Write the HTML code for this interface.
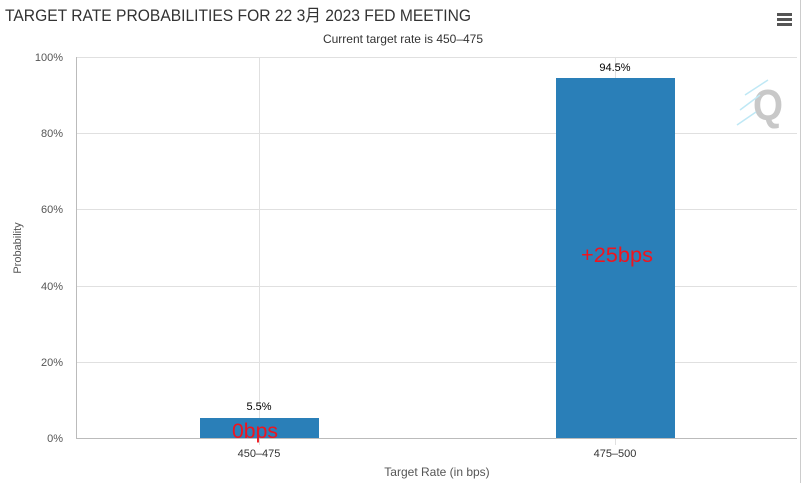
<!DOCTYPE html>
<html><head><style>
body{margin:0;background:#fff;}
svg text{font-family:"Liberation Sans","Noto Sans CJK SC",sans-serif;}
</style></head><body>
<svg width="809" height="483" xmlns="http://www.w3.org/2000/svg">
<rect width="809" height="483" fill="#fff"/>
<line x1="800.5" y1="0" x2="800.5" y2="483" stroke="#ccc"/>
<text x="5" y="21" font-size="16.5" fill="#333" textLength="466" lengthAdjust="spacingAndGlyphs">TARGET RATE PROBABILITIES FOR 22 3月 2023 FED MEETING</text>
<text x="403" y="43" font-size="12" fill="#333" text-anchor="middle">Current target rate is 450–475</text>
<g fill="#555"><rect x="777" y="13" width="15" height="3"/><rect x="777" y="18" width="15" height="3"/><rect x="777" y="23" width="15" height="3"/></g>
<g stroke="#e0e0e0" stroke-width="1">
<line x1="76" y1="57.5" x2="797" y2="57.5"/>
<line x1="76" y1="133.5" x2="797" y2="133.5"/>
<line x1="76" y1="209.5" x2="797" y2="209.5"/>
<line x1="76" y1="286.5" x2="797" y2="286.5"/>
<line x1="76" y1="362.5" x2="797" y2="362.5"/>
<line x1="259.5" y1="57" x2="259.5" y2="445"/>
<line x1="615.5" y1="57" x2="615.5" y2="445"/>
</g>
<line x1="76.5" y1="57" x2="76.5" y2="438" stroke="#bbb"/>
<line x1="76" y1="438.5" x2="797" y2="438.5" stroke="#bbb"/>
<g font-size="11" fill="#555" text-anchor="end">
<text x="63" y="61">100%</text><text x="63" y="137">80%</text><text x="63" y="213">60%</text>
<text x="63" y="290">40%</text><text x="63" y="366">20%</text><text x="63" y="442">0%</text>
</g>
<text x="21" y="248" font-size="11" fill="#555" text-anchor="middle" transform="rotate(-90 21 248)">Probability</text>
<rect x="200" y="418" width="119" height="20" fill="#2a7fb8"/>
<rect x="556" y="78" width="119" height="360" fill="#2a7fb8"/>
<text x="259" y="410" font-size="11" fill="#000" text-anchor="middle">5.5%</text>
<text x="615" y="71" font-size="11" fill="#000" text-anchor="middle">94.5%</text>
<text x="255" y="438" font-size="21" fill="#f0141e" text-anchor="middle" textLength="46" lengthAdjust="spacingAndGlyphs">0bps</text>
<text x="617" y="262" font-size="21" fill="#f0141e" text-anchor="middle" textLength="72" lengthAdjust="spacingAndGlyphs">+25bps</text>
<text x="768" y="120" font-size="44" font-weight="bold" fill="#c8c8c8" text-anchor="middle" textLength="30" lengthAdjust="spacingAndGlyphs">Q</text>
<g stroke="#bfe8f5" stroke-width="1.5"><line x1="745" y1="95" x2="768" y2="80"/><line x1="740" y1="110" x2="760" y2="95"/><line x1="737" y1="125" x2="756" y2="112"/></g>
<g font-size="11" fill="#333" text-anchor="middle">
<text x="259" y="457">450–475</text><text x="615" y="457">475–500</text>
</g>
<text x="437" y="476" font-size="12" fill="#555" text-anchor="middle">Target Rate (in bps)</text>
</svg>
</body></html>
